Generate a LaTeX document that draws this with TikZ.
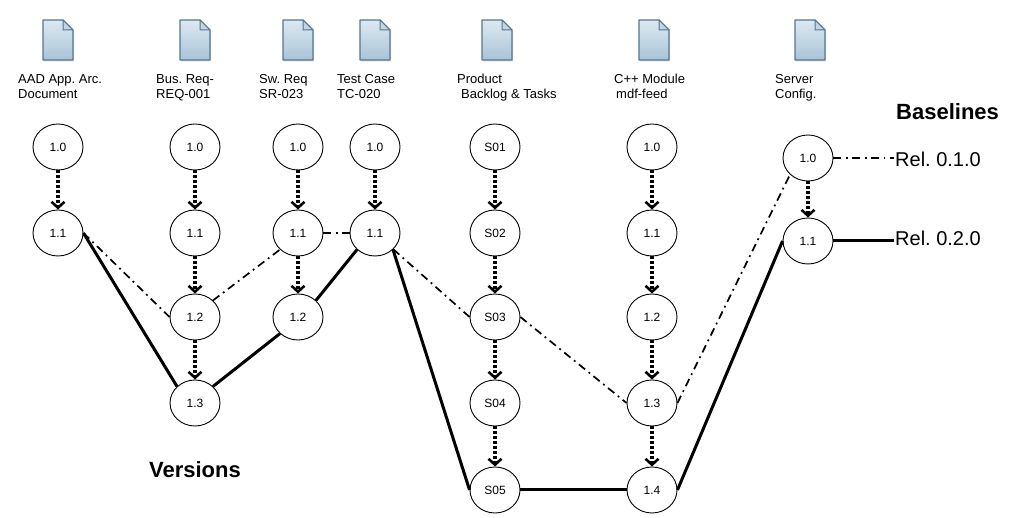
\documentclass[tikz,border=0pt]{standalone}
\usepackage{fontspec}
\setmainfont{Liberation Sans}
\usetikzlibrary{arrows.meta,shapes.geometric}
\frenchspacing

\definecolor{docTop}{HTML}{DDE8F1}
\definecolor{docBot}{HTML}{A9C3D7}
\definecolor{docLine}{HTML}{557690}
\definecolor{docFold}{HTML}{C2D5E3}

\tikzset{
  vnode/.style={draw, ellipse, line width=0.9pt, minimum width=50pt, minimum height=46pt,
    inner sep=0pt, font=\fontsize{12}{14}\selectfont},
  verarrow/.style={line width=3.6pt, dash pattern=on 3pt off 2pt,
    -{Straight Barb[length=6pt,width=13pt,line width=2.6pt]}},
  rela/.style={line width=1.7pt, dash pattern=on 8pt off 4.5pt on 1.8pt off 4.5pt},
  relb/.style={line width=3pt},
  doclabel/.style={align=left, anchor=north west, inner sep=0pt,
    font=\fontsize{13}{15}\selectfont},
  headline/.style={font=\fontsize{22}{26}\selectfont\bfseries, inner sep=0pt},
  rellabel/.style={anchor=west, inner sep=1pt, font=\fontsize{20}{24}\selectfont},
  docicon/.pic={
    \fill[black!30, opacity=0.5] (-14,-18.5) -- (6,-18.5) -- (16,-8.5) -- (16,21.5) -- (-14,21.5) -- cycle;
    \shadedraw[top color=docTop, bottom color=docBot, draw=docLine, line width=1.2pt, line join=round]
      (-15,-20) -- (5,-20) -- (15,-10) -- (15,20) -- (-15,20) -- cycle;
    \filldraw[fill=docFold, draw=docLine, line width=1pt, line join=round]
      (5,-20) -- (5,-10) -- (15,-10) -- cycle;
  }
}

\begin{document}
\begin{tikzpicture}[x=1pt, y=-1pt]
  \useasboundingbox (0,0) rectangle (1010,518);

  \pic at (58,40) {docicon};
  \pic at (195,40) {docicon};
  \pic at (298,40) {docicon};
  \pic at (375,40) {docicon};
  \pic at (497,40) {docicon};
  \pic at (654,40) {docicon};
  \pic at (810,40) {docicon};

  \node[doclabel] (la) at (18,74) {AAD App. Arc.\\Document};
  \node[doclabel] (lb) at (156,74) {Bus. Req-\\REQ-001};
  \node[doclabel] (lc) at (259,74) {Sw. Req\\SR-023};
  \node[doclabel] (ld) at (337,74) {Test Case\\TC-020};
  \node[doclabel] (le) at (457,74) {Product\\\hspace*{4pt}Backlog \& Tasks};
  \node[doclabel] (lf) at (614,74) {C++ Module\\\hspace*{2pt}mdf-feed};
  \node[doclabel] (lg) at (775,74) {Server\\Config.};

  \node[vnode] (a0) at (58,147) {1.0};
  \node[vnode] (a1) at (58,233) {1.1};

  \node[vnode] (b0) at (195,147) {1.0};
  \node[vnode] (b1) at (195,233) {1.1};
  \node[vnode] (b2) at (195,317) {1.2};
  \node[vnode] (b3) at (195,403) {1.3};

  \node[vnode] (c0) at (298,147) {1.0};
  \node[vnode] (c1) at (298,233) {1.1};
  \node[vnode] (c2) at (298,317) {1.2};

  \node[vnode] (d0) at (375,147) {1.0};
  \node[vnode] (d1) at (375,233) {1.1};

  \node[vnode] (e0) at (495,147) {S01};
  \node[vnode] (e1) at (495,233) {S02};
  \node[vnode] (e2) at (495,317) {S03};
  \node[vnode] (e3) at (495,403) {S04};
  \node[vnode] (e4) at (495,490) {S05};

  \node[vnode] (f0) at (652,147) {1.0};
  \node[vnode] (f1) at (652,233) {1.1};
  \node[vnode] (f2) at (652,317) {1.2};
  \node[vnode] (f3) at (652,403) {1.3};
  \node[vnode] (f4) at (652,490) {1.4};

  \node[vnode] (g0) at (808,158) {1.0};
  \node[vnode] (g1) at (808,241) {1.1};

  \node[headline] (versions) at (195,470) {Versions};
  \node[headline, anchor=west] (baselines) at (896,112) {Baselines};
  \node[rellabel] (rel1) at (894,159) {Rel. 0.1.0};
  \node[rellabel] (rel2) at (894,238) {Rel. 0.2.0};

  \draw[verarrow] (a0) -- (a1);
  \draw[verarrow] (b0) -- (b1);
  \draw[verarrow] (b1) -- (b2);
  \draw[verarrow] (b2) -- (b3);
  \draw[verarrow] (c0) -- (c1);
  \draw[verarrow] (c1) -- (c2);
  \draw[verarrow] (d0) -- (d1);
  \draw[verarrow] (e0) -- (e1);
  \draw[verarrow] (e1) -- (e2);
  \draw[verarrow] (e2) -- (e3);
  \draw[verarrow] (e3) -- (e4);
  \draw[verarrow] (f0) -- (f1);
  \draw[verarrow] (f1) -- (f2);
  \draw[verarrow] (f2) -- (f3);
  \draw[verarrow] (f3) -- (f4);
  \draw[verarrow] (g0) -- (g1);

  \draw[rela] (a1.east) -- (b2.west);
  \draw[rela] (b2.north east) -- (c1.south west);
  \draw[rela] (c1) -- (d1);
  \draw[rela] (d1) -- (e2.west);
  \draw[rela] (e2.east) -- (f3.west);
  \draw[rela] (f3.east) -- (g0.south west);
  \draw[rela] (g0.east) -- (g0.east -| rel1.west);

  \draw[relb] (a1.east) -- (b3.north west);
  \draw[relb] (b3.north east) -- (c2.south west);
  \draw[relb] (c2.north east) -- (d1.south west);
  \draw[relb] (d1.south east) -- (e4.west);
  \draw[relb] (e4) -- (f4);
  \draw[relb] (f4.east) -- (g1.west);
  \draw[relb] (g1.east) -- (g1.east -| rel2.west);
\end{tikzpicture}
\end{document}
